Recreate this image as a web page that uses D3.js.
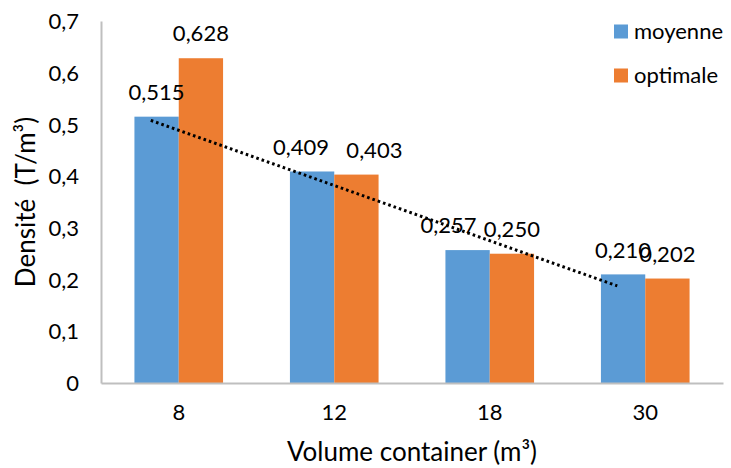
<!DOCTYPE html>
<html>
<head>
<meta charset="utf-8">
<script src="https://cdn.jsdelivr.net/npm/d3@7"></script>
<style>
  body { margin: 0; background: #fff; }
  svg text { font-family: Lato, "Open Sans", sans-serif; fill: #000; white-space: pre; }
</style>
</head>
<body>
<svg id="chart" width="731" height="468"></svg>
<script>
// data
const categories = ["8", "12", "18", "30"];
const seriesNames = ["moyenne", "optimale"];
const moyenne = [0.515, 0.409, 0.257, 0.210];
const optimale = [0.628, 0.403, 0.250, 0.202];
const yTicks = [0, 0.1, 0.2, 0.3, 0.4, 0.5, 0.6, 0.7];
const colors = ["#5B9BD5", "#ED7D31"];

// small manual nudges of value labels (dx per category, per series)
const labelDx = [[0, 0], [-11, 18], [-19, 0], [0, 0]];

const svg = d3.select("#chart");
const margin = {left: 101, right: 8, top: 21, bottom: 85};
const width = 731, height = 468;
const numSize = 22, titleSize = 26;
const fmt = v => d3.format(".3f")(v).replace(".", ",");
const fmtTick = v => (v === 0 ? "0" : d3.format(".1f")(v).replace(".", ","));

const x = d3.scaleBand()
  .domain(categories)
  .range([margin.left, width - margin.right])
  .paddingInner(0.43)
  .paddingOuter(0.215);

const xs = d3.scaleBand()
  .domain(seriesNames)
  .range([0, x.bandwidth()]);

const y = d3.scaleLinear()
  .domain([0, 0.7])
  .range([height - margin.bottom, margin.top]);

const rows = categories.map((c, i) => ({cat: c, i: i, vals: [moyenne[i], optimale[i]]}));

// bars
const groups = svg.append("g").selectAll("g")
  .data(rows)
  .join("g")
    .attr("transform", d => `translate(${x(d.cat)},0)`);

groups.selectAll("rect")
  .data(d => d.vals.map((v, k) => ({v: v, k: k, i: d.i})))
  .join("rect")
    .attr("x", d => xs(seriesNames[d.k]))
    .attr("y", d => y(d.v))
    .attr("width", xs.bandwidth())
    .attr("height", d => y(0) - y(d.v))
    .attr("fill", d => colors[d.k]);

// axes
const yAxis = svg.append("g")
  .attr("transform", `translate(${margin.left},0)`)
  .call(d3.axisLeft(y).tickValues(yTicks).tickFormat(fmtTick).tickSize(0).tickPadding(22));
yAxis.select(".domain").attr("stroke", "#BFBFBF").attr("stroke-width", 2);
yAxis.selectAll("text").attr("font-size", numSize).attr("dy", "0.35em");

const xAxis = svg.append("g")
  .attr("transform", `translate(0,${y(0)})`)
  .call(d3.axisBottom(x).tickSize(0).tickPadding(21));
xAxis.select(".domain").attr("stroke", "#BFBFBF").attr("stroke-width", 2);
xAxis.selectAll("text").attr("font-size", numSize);

// linear trendline on moyenne
const n = moyenne.length;
const xi = moyenne.map((_, i) => i + 1);
const mx = d3.mean(xi), my = d3.mean(moyenne);
const slope = d3.sum(xi.map((v, i) => (v - mx) * (moyenne[i] - my))) / d3.sum(xi.map(v => (v - mx) ** 2));
const icpt = my - slope * mx;
const trendX = c => x(c) + x.step() * 0.32 - x.step() * 0.215;
svg.append("line")
  .attr("x1", trendX(categories[0]))
  .attr("y1", y(icpt + slope * 1))
  .attr("x2", trendX(categories[n - 1]))
  .attr("y2", y(icpt + slope * n))
  .attr("stroke", "#000")
  .attr("stroke-width", 3)
  .attr("stroke-dasharray", "2.6,3");

// value labels
groups.selectAll("text.val")
  .data(d => d.vals.map((v, k) => ({v: v, k: k, i: d.i})))
  .join("text")
    .attr("class", "val")
    .attr("x", d => xs(seriesNames[d.k]) + xs.bandwidth() / 2 + labelDx[d.i][d.k])
    .attr("y", d => y(d.v) - 24.5)
    .attr("dy", "0.35em")
    .attr("text-anchor", "middle")
    .attr("font-size", numSize)
    .text(d => fmt(d.v));

// axis titles
svg.append("text")
  .attr("transform", `translate(26,${(y(0) + y(0.7)) / 2}) rotate(-90)`)
  .attr("text-anchor", "middle")
  .attr("dy", "0.35em")
  .attr("font-size", titleSize)
  .text("Densité  (T/m³)");

svg.append("text")
  .attr("x", (margin.left + width - margin.right) / 2)
  .attr("y", 452)
  .attr("dy", "0.35em")
  .attr("text-anchor", "middle")
  .attr("font-size", titleSize)
  .text("Volume container (m³)");

// legend
const legend = svg.append("g").selectAll("g")
  .data(seriesNames)
  .join("g")
    .attr("transform", (d, i) => `translate(614,${31.5 + i * 44})`);
legend.append("rect")
  .attr("y", -7).attr("width", 14).attr("height", 14)
  .attr("fill", (d, i) => colors[i]);
legend.append("text")
  .attr("x", 20)
  .attr("dy", "0.35em")
  .attr("font-size", numSize)
  .text(d => d);
</script>
</body>
</html>
